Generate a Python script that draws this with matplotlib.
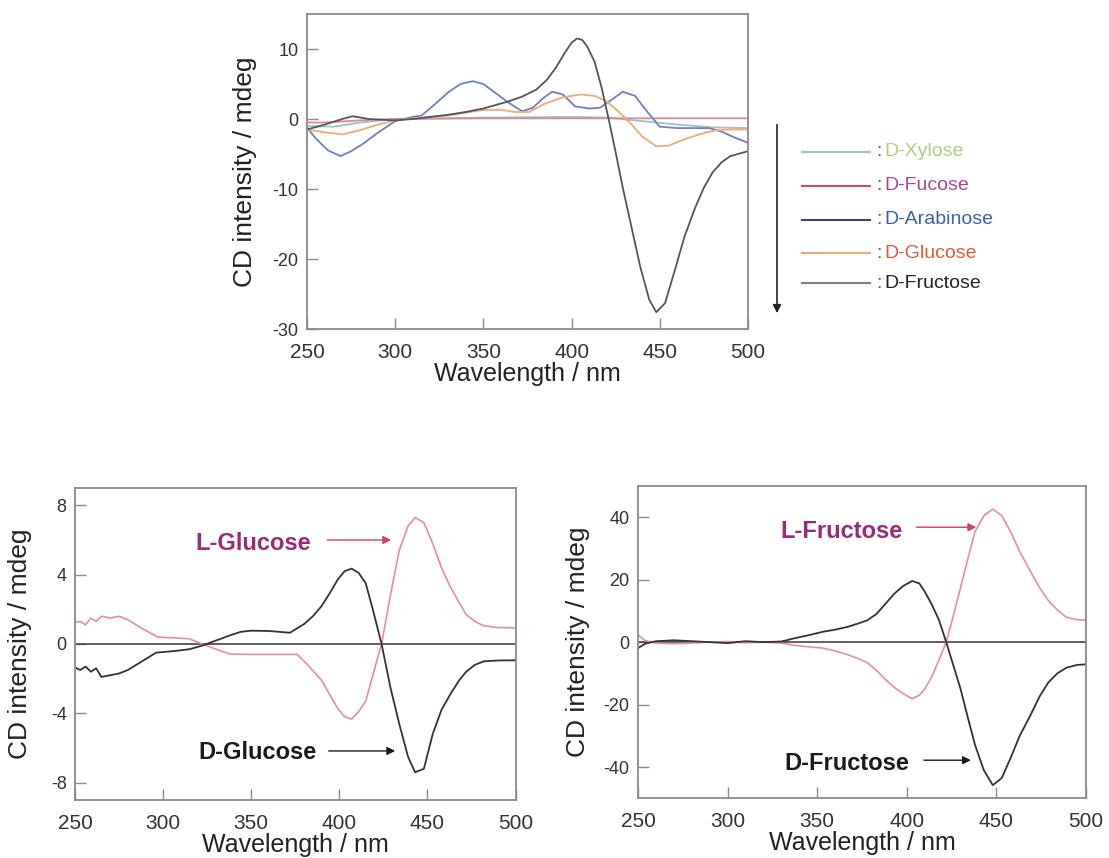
import matplotlib
matplotlib.use("Agg")
import matplotlib.pyplot as plt
from matplotlib.lines import Line2D

plt.rcParams['font.family'] = ['Liberation Sans', 'DejaVu Sans']
plt.rcParams['axes.unicode_minus'] = False

# ---------------- Data: top panel (D-sugars) ----------------
xyl_wl = [250, 265, 280, 300, 350, 400, 420, 440, 460, 480, 500]
xyl_cd = [-1.0, -1.1, -0.5, 0.0, 0.2, 0.3, 0.2, -0.3, -0.8, -1.2, -1.3]

fuc_wl = [250, 260, 280, 300, 350, 400, 450, 500]
fuc_cd = [-0.5, -0.5, -0.2, 0.0, 0.1, 0.1, 0.1, 0.1]

ara_wl = [250, 255, 262, 269, 275, 282, 290, 300, 310, 315, 322, 330, 337, 344, 350,
          358, 365, 372, 378, 384, 389, 395, 402, 410, 416, 423, 429, 436, 443, 450,
          460, 470, 478, 485, 492, 500]
ara_cd = [-1.2, -2.8, -4.5, -5.3, -4.6, -3.5, -2.0, -0.3, 0.3, 0.5, 2.0, 3.8, 5.0, 5.4, 5.0,
          3.5, 2.2, 1.1, 1.6, 3.0, 3.9, 3.5, 1.8, 1.5, 1.6, 2.8, 3.9, 3.3, 1.0, -1.1,
          -1.3, -1.3, -1.3, -1.8, -2.6, -3.4]

glu_wl = [250, 260, 270, 280, 290, 300, 310, 320, 330, 340, 350, 360, 368, 376, 385,
          395, 405, 413, 420, 426, 433, 440, 448, 455, 465, 475, 482, 490, 500]
glu_cd = [-1.5, -1.9, -2.2, -1.6, -0.8, -0.2, 0.1, 0.3, 0.5, 0.9, 1.3, 1.3, 1.0, 1.0, 2.2,
          3.1, 3.5, 3.3, 2.5, 1.2, -0.5, -2.5, -3.9, -3.8, -2.8, -2.0, -1.6, -1.5, -1.5]

fru_wl = [250, 260, 270, 276, 285, 300, 310, 320, 330, 340, 350, 364, 372, 380, 386,
          391, 396, 400, 403, 406, 409, 413, 417, 421, 425, 429, 434, 439, 444, 448,
          453, 459, 464, 470, 475, 480, 485, 490, 500]
fru_cd = [-1.5, -0.8, 0.0, 0.4, 0.0, -0.2, 0.0, 0.3, 0.6, 1.0, 1.5, 2.5, 3.2, 4.2, 5.6,
          7.3, 9.4, 10.9, 11.5, 11.3, 10.3, 8.2, 4.5, 0.0, -4.8, -9.8, -15.5, -21.2, -25.8, -27.6,
          -26.3, -21.2, -16.8, -12.7, -9.8, -7.6, -6.2, -5.3, -4.6]

top_names = ['D-Xylose', 'D-Fucose', 'D-Arabinose', 'D-Glucose', 'D-Fructose']

# ---------------- Data: bottom-left (glucose enantiomers) ----------------
dglu_wl = [250, 253, 256, 259, 262, 265, 270, 275, 280, 288, 296, 307, 315, 322, 330,
           338, 344, 350, 360, 372, 380, 385, 390, 395, 399, 403, 407, 411, 415, 419,
           424, 429, 434, 439, 443, 448, 453, 458, 463, 468, 472, 477, 482, 490, 500]
dglu_cd = [-1.35, -1.5, -1.3, -1.6, -1.4, -1.9, -1.8, -1.7, -1.5, -1.0, -0.5, -0.4, -0.3, -0.1, 0.2,
           0.5, 0.7, 0.77, 0.75, 0.65, 1.15, 1.6, 2.2, 3.0, 3.7, 4.2, 4.35, 4.1, 3.5, 2.0,
           0.0, -2.5, -4.6, -6.5, -7.4, -7.2, -5.2, -3.8, -2.9, -2.1, -1.6, -1.2, -1.0, -0.95, -0.94]

lglu_wl = [250, 253, 256, 259, 262, 265, 270, 275, 280, 288, 297, 307, 315, 322, 330,
           338, 350, 365, 376, 382, 390, 395, 399, 403, 407, 411, 415, 419, 424, 429,
           434, 439, 443, 448, 453, 458, 463, 468, 472, 477, 482, 490, 500]
lglu_cd = [1.25, 1.3, 1.1, 1.5, 1.3, 1.6, 1.5, 1.6, 1.4, 0.9, 0.4, 0.35, 0.3, 0.0, -0.3,
           -0.58, -0.6, -0.6, -0.6, -1.2, -2.1, -3.0, -3.7, -4.2, -4.33, -3.9, -3.3, -1.8, 0.0, 2.8,
           5.4, 6.8, 7.3, 7.0, 5.8, 4.4, 3.3, 2.4, 1.7, 1.3, 1.05, 0.95, 0.93]

# ---------------- Data: bottom-right (fructose enantiomers) ----------------
dfru_wl = [250, 254, 260, 270, 280, 290, 300, 310, 320, 330, 337, 345, 353, 360, 367,
           373, 378, 383, 388, 393, 398, 403, 407, 410, 414, 418, 422, 426, 430, 434,
           438, 443, 448, 453, 458, 463, 469, 474, 479, 484, 489, 495, 500]
dfru_cd = [-1.9, -0.5, 0.3, 0.6, 0.3, 0.0, -0.3, 0.3, 0.0, 0.2, 1.2, 2.2, 3.3, 4.0, 4.9,
           6.0, 7.0, 9.0, 12.2, 15.5, 18.0, 19.6, 18.8, 16.2, 12.0, 7.0, 0.0, -7.5, -15.0, -24.0,
           -32.8, -41.0, -45.8, -43.5, -37.0, -30.0, -23.4, -17.5, -12.9, -10.0, -8.2, -7.3, -7.1]

lfru_wl = [250, 254, 260, 270, 280, 290, 300, 310, 320, 330, 337, 345, 353, 360, 367,
           373, 378, 383, 388, 393, 398, 403, 407, 410, 414, 418, 422, 426, 430, 434,
           438, 443, 448, 453, 458, 463, 469, 474, 479, 484, 489, 495, 500]
lfru_cd = [2.3, 0.5, -0.3, -0.5, -0.3, 0.0, 0.2, -0.2, 0.0, -0.3, -1.0, -1.5, -1.9, -2.8, -4.0,
           -5.3, -6.6, -9.0, -11.9, -14.5, -16.5, -18.1, -17.0, -15.0, -11.0, -5.6, 0.0, 8.5, 17.5, 26.5,
           35.3, 40.5, 42.6, 40.5, 35.3, 29.0, 22.7, 17.5, 13.3, 10.3, 8.0, 7.2, 7.0]

# ---------------- Styling ----------------
W, H = 1109, 858
fig = plt.figure(figsize=(W / 100, H / 100), dpi=100)

spine_c = '#8a8a8a'
tick_lab_c = '#333333'

def px_axes(x0, y0, x1, y1):
    return fig.add_axes([x0 / W, 1 - y1 / H, (x1 - x0) / W, (y1 - y0) / H])

def style(ax, xt_size=15, yt_size=13, xpad=10):
    for s in ax.spines.values():
        s.set_color(spine_c)
        s.set_linewidth(1.3)
    ax.tick_params(direction='in', length=8, width=1.0, color=spine_c, labelcolor=tick_lab_c)
    ax.tick_params(axis='x', labelsize=xt_size, pad=xpad)
    ax.tick_params(axis='y', labelsize=yt_size, pad=6)
    ax.set_xlim(250, 500)
    ax.set_xticks([250, 300, 350, 400, 450, 500])
    ax.set_xlabel('Wavelength / nm', fontsize=18, color='#222222', labelpad=0)
    ax.set_ylabel('CD intensity / mdeg', fontsize=19, color='#222222')

# ---------- Top panel ----------
ax1 = px_axes(307, 14, 748, 329)
style(ax1)
ax1.set_ylim(-30, 15)
ax1.set_yticks([-30, -20, -10, 0, 10])
ax1.yaxis.set_label_coords(-0.113, 0.5)

top_line_colors = ['#9fc3bd', '#d48a9a', '#6d80c6', '#f0a878', '#555555']
top_series = [(xyl_wl, xyl_cd), (fuc_wl, fuc_cd), (ara_wl, ara_cd), (glu_wl, glu_cd), (fru_wl, fru_cd)]
for (wl, cd), c in zip(top_series, top_line_colors):
    ax1.plot(wl, cd, color=c, lw=1.3)

# ---------- Bottom-left ----------
ax2 = px_axes(75, 488, 515.5, 800)
style(ax2)
ax2.set_ylim(-9, 9)
ax2.set_yticks([-8, -4, 0, 4, 8])
ax2.yaxis.set_label_coords(-0.098, 0.5)
ax2.axhline(0, color='#444444', lw=1.2)
ax2.plot(lglu_wl, lglu_cd, color='#e88ca0', lw=1.2)
ax2.plot(dglu_wl, dglu_cd, color='#333333', lw=1.3)
ax2.text(351, 5.8, 'L-Glucose', color='#9a2a7a', fontsize=17, fontweight='bold', ha='center', va='center')
ax2.annotate('', xy=(431, 6.0), xytext=(391.6, 6.0),
             arrowprops=dict(arrowstyle='-|>', color='#d8405a', lw=1.0, mutation_scale=12))
ax2.text(353.3, -6.27, 'D-Glucose', color='#1a1a1a', fontsize=17, fontweight='bold', ha='center', va='center')
ax2.annotate('', xy=(433.3, -6.17), xytext=(392.4, -6.17),
             arrowprops=dict(arrowstyle='-|>', color='#1a1a1a', lw=1.0, mutation_scale=12))

# ---------- Bottom-right ----------
ax3 = px_axes(638, 486, 1086, 798.3)
style(ax3)
ax3.set_ylim(-50, 50)
ax3.set_yticks([-40, -20, 0, 20, 40])
ax3.yaxis.set_label_coords(-0.107, 0.5)
ax3.axhline(0, color='#444444', lw=1.2)
ax3.plot(lfru_wl, lfru_cd, color='#e88ca0', lw=1.2)
ax3.plot(dfru_wl, dfru_cd, color='#333333', lw=1.3)
ax3.text(363.3, 35.3, 'L-Fructose', color='#9a2a7a', fontsize=17, fontweight='bold', ha='center', va='center')
ax3.annotate('', xy=(440.3, 36.8), xytext=(403.9, 36.8),
             arrowprops=dict(arrowstyle='-|>', color='#d8405a', lw=1.0, mutation_scale=12))
ax3.text(366.6, -39, 'D-Fructose', color='#1a1a1a', fontsize=17, fontweight='bold', ha='center', va='center')
ax3.annotate('', xy=(437.3, -37.8), xytext=(408, -37.8),
             arrowprops=dict(arrowstyle='-|>', color='#1a1a1a', lw=1.0, mutation_scale=12))

# ---------- Legend & arrow (overlay in pixel coordinates) ----------
ov = fig.add_axes([0, 0, 1, 1], facecolor='none')
ov.set_xlim(0, W)
ov.set_ylim(H, 0)
ov.axis('off')
ov.annotate('', xy=(777, 316), xytext=(777, 122),
            arrowprops=dict(arrowstyle='-|>', color='#222222', lw=1.2, mutation_scale=12))
leg_y = [152, 186, 220, 253, 283]
leg_line_colors = ['#9fc3bd', '#c8506a', '#404080', '#f0a878', '#808080']
leg_text_colors = ['#a8d080', '#a04a98', '#3a60b0', '#e05a3a', '#222222']
for y, name, lc, tc in zip(leg_y, top_names, leg_line_colors, leg_text_colors):
    ov.add_line(Line2D([802, 870], [y, y], color=lc, lw=1.5))
    ov.text(876, y, ':', color='#555555', fontsize=14, ha='left', va='center')
    ov.text(884, y, name, color=tc, fontsize=14, ha='left', va='center')

fig.savefig('out.png', dpi=100)
